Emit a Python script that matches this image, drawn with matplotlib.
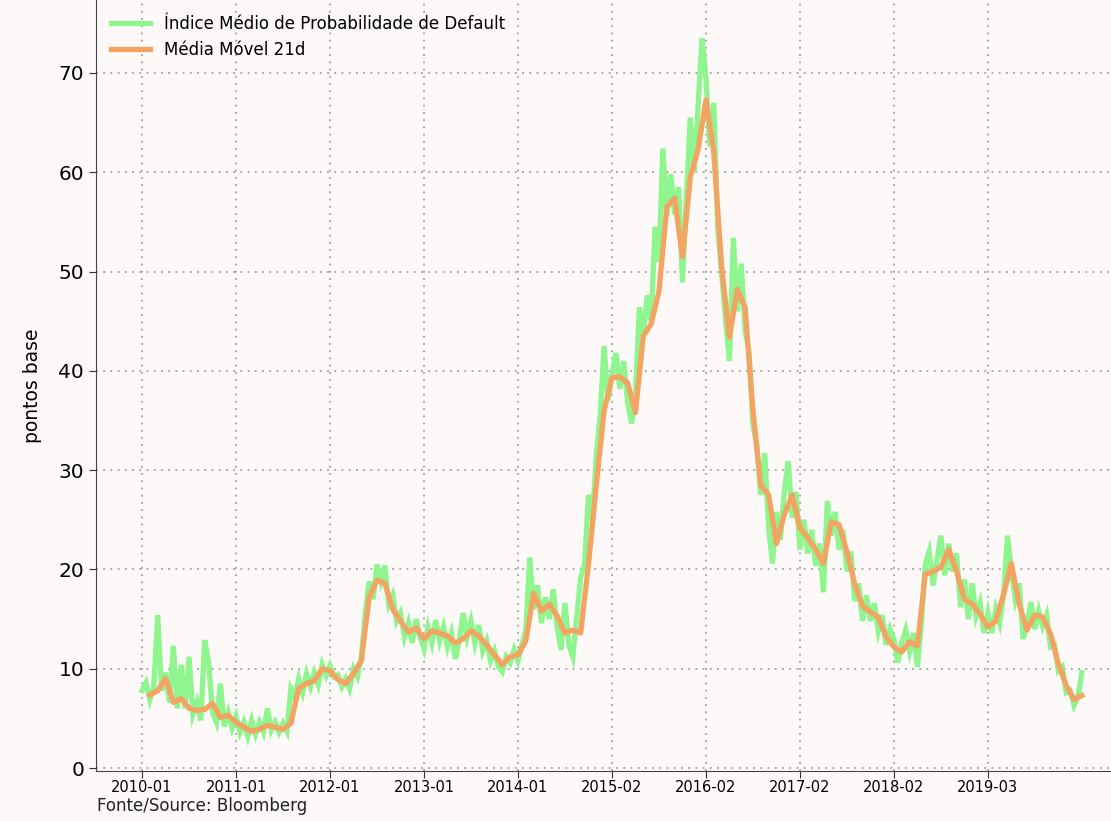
import matplotlib.pyplot as plt
import numpy as np

# leituras semi-mensais do indice (pontos base), jan/2010 a dez/2019
indice = [
    7.8, 8.6, 6.9, 8.2, 15.4, 7.8, 9.6, 6.6, 12.3, 6.0, 10.4, 6.0,
    11.2, 5.4, 6.6, 4.8, 12.9, 10.6, 5.6, 4.6, 8.5, 4.2, 5.6, 4.0,
    5.2, 3.6, 4.6, 3.2, 4.8, 3.4, 4.6, 3.6, 6.0, 3.8, 4.6, 3.6,
    4.5, 3.7, 8.0, 7.2, 9.0, 7.6, 9.5, 8.2, 9.6, 8.4, 10.4, 9.3,
    10.3, 9.2, 9.4, 8.2, 9.0, 8.0, 10.0, 9.2, 11.2, 15.5, 18.8, 17.0,
    20.5, 18.8, 20.4, 16.5, 17.4, 14.8, 15.6, 13.2, 14.6, 12.6, 15.0, 13.2,
    12.0, 14.2, 12.6, 14.9, 12.8, 14.2, 12.2, 13.6, 11.0, 12.8, 15.6, 13.2,
    14.8, 12.6, 14.4, 11.8, 12.8, 10.8, 11.8, 10.2, 9.7, 11.2, 10.6, 11.9,
    10.8, 12.4, 13.8, 21.2, 16.0, 18.4, 14.6, 17.2, 15.0, 18.0, 14.2, 11.9,
    16.6, 12.4, 11.2, 15.2, 19.2, 20.5, 27.5, 25.0, 31.5, 35.5, 42.5, 37.0,
    39.5, 41.8, 38.2, 41.0, 36.8, 34.7, 37.5, 46.4, 43.6, 47.6, 45.0, 54.5,
    51.0, 62.4, 55.5, 59.8, 55.8, 58.5, 48.9, 57.5, 65.5, 60.0, 66.8, 73.5,
    69.5, 62.6, 67.0, 54.5, 49.8, 45.2, 41.0, 53.4, 46.0, 50.8, 44.0, 42.0,
    34.5, 32.5, 27.5, 31.7, 24.2, 20.6, 25.8, 23.0, 27.8, 30.9, 25.2, 27.8,
    22.0, 25.0, 21.6, 24.0, 20.4, 22.6, 17.7, 26.9, 23.4, 25.8, 22.0, 24.0,
    19.8, 21.8, 16.8, 18.6, 14.8, 17.4, 14.8, 16.6, 13.8, 15.4, 12.4, 14.0,
    13.0, 10.6, 12.6, 13.9, 11.8, 13.6, 10.2, 14.5, 20.5, 21.8, 18.4, 21.0,
    23.4, 19.4, 22.6, 19.8, 21.6, 16.2, 19.0, 15.0, 18.6, 15.3, 16.6, 13.6,
    15.6, 13.6, 16.0, 14.6, 17.4, 23.4, 19.8, 17.0, 18.6, 13.0, 14.6, 16.7,
    14.0, 15.8, 14.3, 15.4, 12.2, 12.4, 9.8, 10.2, 7.6, 7.8, 6.3, 7.2,
    9.6,
]

# media movel 21d, leituras mensais
media_movel = [
    np.nan, 7.35, 7.8, 9.0, 6.6, 7.0, 6.0, 5.8, 5.9, 6.5, 5.1, 5.3,
    4.6, 4.1, 3.7, 3.9, 4.3, 4.1, 3.9, 4.5, 8.0, 8.5, 8.8, 10.0,
    9.8, 8.9, 8.5, 9.5, 10.8, 17.2, 18.9, 18.6, 16.0, 14.8, 13.7, 14.1,
    13.0, 13.8, 13.6, 13.3, 12.6, 13.0, 13.8, 13.3, 12.4, 11.4, 10.4, 11.2,
    11.4, 12.8, 17.6, 15.8, 16.5, 15.3, 13.6, 13.9, 13.6, 20.5, 28.5, 36.0,
    39.3, 39.4, 38.8, 35.8, 43.5, 44.7, 48.0, 56.5, 57.4, 51.5, 59.5, 62.3,
    67.3, 62.0, 50.5, 43.4, 48.2, 46.4, 36.0, 28.5, 27.5, 22.6, 25.5, 27.5,
    24.2, 23.2, 22.0, 20.6, 24.8, 24.5, 21.8, 18.5, 16.3, 15.7, 15.2, 13.2,
    12.2, 11.7, 12.7, 12.3, 19.5, 19.8, 20.2, 22.0, 19.8, 17.0, 16.5, 15.5,
    14.2, 14.8, 17.5, 20.6, 16.5, 13.9, 15.4, 15.2, 13.5, 10.5, 8.3, 6.9,
    7.3,
]

rotulos_x = ['2010-01', '2011-01', '2012-01', '2013-01', '2014-01',
             '2015-02', '2016-02', '2017-02', '2018-02', '2019-03']

fundo = '#fdf9f8'
fig = plt.figure(figsize=(11.11, 8.21), dpi=100, facecolor=fundo)
ax = fig.add_axes([96 / 1111, 50 / 821, 1015 / 1111, 771 / 821])
ax.set_facecolor(fundo)

x_ind = np.arange(len(indice)) / 24
x_mm = np.arange(len(media_movel)) / 12
ax.plot(x_ind, indice, color='#8ff58f', lw=3.8, solid_joinstyle='miter',
        label='Índice Médio de Probabilidade de Default')
ax.plot(x_mm, media_movel, color='#f4a462', lw=3.8, label='Média Móvel 21d')

ax.set_xlim(-0.49, 10.31)
ax.set_ylim(-0.3, 77.35)
ax.set_xticks(range(len(rotulos_x)))
ax.set_xticklabels(rotulos_x, fontsize=10.5)
ax.set_yticks(range(0, 80, 10))
ax.tick_params(axis='y', labelsize=14.5, length=5, color='#333333')
ax.tick_params(axis='x', length=5, pad=1.5, color='#333333')
ax.grid(True, linestyle=(0, (1, 3)), color='#a0a0a0', lw=1.3)

for s in ['top', 'right']:
    ax.spines[s].set_visible(False)
for s in ['left', 'bottom']:
    ax.spines[s].set_color('#444444')

ax.set_ylabel('pontos base', fontsize=13.5)
ax.yaxis.set_label_coords(-0.053, 0.5)

ax.legend(loc='upper left', frameon=False, fontsize=12, handlelength=2.35)
fig.text(97 / 1111, 1 - 806 / 821, 'Fonte/Source: Bloomberg', fontsize=12,
         va='center', ha='left', color='#222222')

fig.savefig('out.png', dpi=100, facecolor=fundo)
